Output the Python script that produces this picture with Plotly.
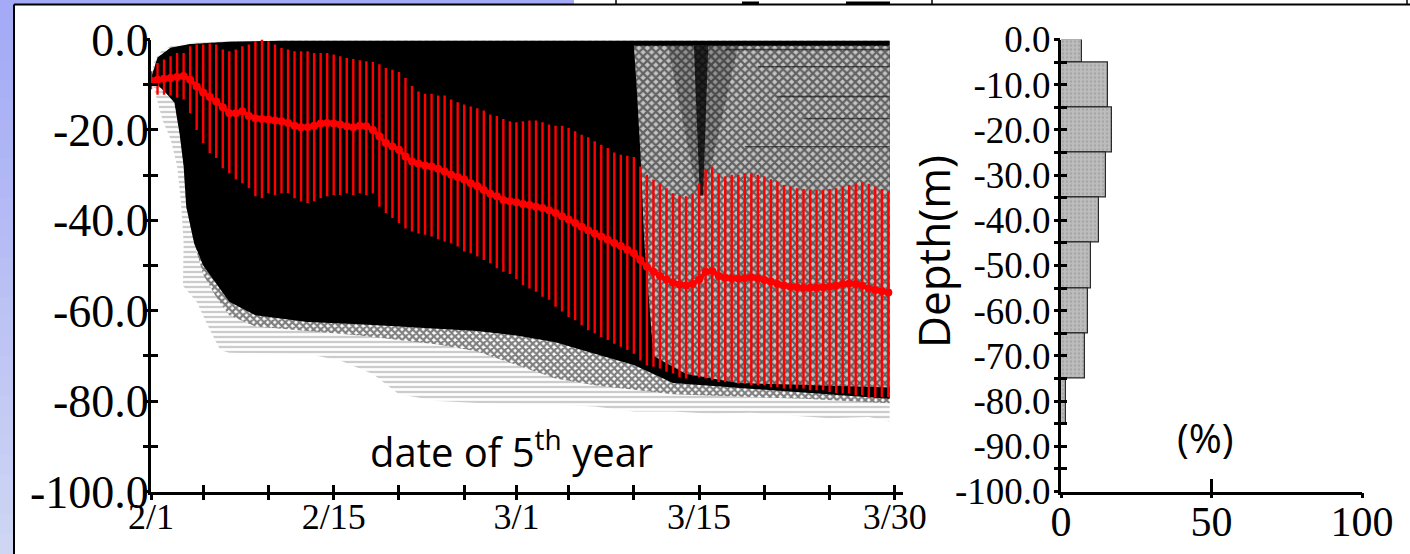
import numpy as np
import plotly.graph_objects as go
from datetime import date

W, H = 1410, 554


def px_x(p):
    return p / W


def px_y(p):
    return 1 - p / H


# ---------------- time axis: 5th year, half-day samples from 2/1 ----------------
TICK_DATES = ["2/1", "2/5", "2/10", "2/15", "2/20", "2/25", "3/1",
              "3/5", "3/10", "3/15", "3/20", "3/25", "3/30"]
LABELED_DATES = ["2/1", "2/15", "3/1", "3/15", "3/30"]

# mean depth (m) of all tracked individuals
MEAN_DEPTH = [
    -9.1, -8.9, -8.7, -8.5, -8.3, -8.1, -8.9, -10.4, -11.7, -12.7,
    -13.7, -15.0, -16.3, -16.3, -15.9, -16.9, -17.4, -17.6, -17.7, -17.9,
    -18.1, -18.5, -19.1, -19.4, -19.4, -19.1, -18.6, -18.5, -18.6, -18.8,
    -19.2, -19.4, -19.1, -19.2, -20.0, -21.4, -22.9, -23.7, -24.4, -25.9,
    -27.0, -27.5, -27.9, -28.1, -28.6, -29.2, -29.9, -30.4, -31.0, -31.8,
    -32.4, -33.3, -34.1, -34.7, -35.5, -35.8, -36.0, -36.4, -36.6, -37.0,
    -37.3, -37.8, -38.4, -39.1, -39.8, -40.6, -41.4, -42.2, -42.9, -43.6,
    -44.3, -45.0, -45.7, -46.5, -47.3, -48.8, -50.3, -51.4, -52.3, -53.1,
    -53.8, -54.2, -54.4, -54.1, -53.1, -51.4, -51.2, -52.3, -52.7, -52.9,
    -52.9, -52.8, -52.6, -52.9, -53.2, -53.6, -54.1, -54.4, -54.7, -54.8,
    -54.9, -54.9, -54.9, -54.8, -54.7, -54.5, -54.1, -54.0, -54.1, -54.5,
    -55.1, -55.4, -55.7, -56.0]

# mean + 1 SD
SD_UPPER = [
    -7.0, -5.2, -4.4, -3.7, -3.0, -3.0, -1.5, -1.1, -1.1, -0.9,
    -1.1, -2.2, -2.6, -2.2, -1.5, -1.1, -0.4, 0.0, -0.4, -1.1,
    -1.9, -2.2, -2.6, -2.6, -2.6, -3.0, -3.0, -3.0, -3.3, -3.7,
    -4.1, -4.3, -4.6, -4.8, -5.0, -5.5, -6.3, -6.7, -7.2, -8.5,
    -10.3, -11.5, -12.0, -12.0, -12.4, -12.4, -13.3, -13.9, -14.4, -14.8,
    -15.2, -15.7, -16.6, -16.9, -17.6, -18.1, -18.3, -18.1, -17.9, -17.9,
    -18.3, -18.8, -19.1, -19.1, -19.6, -20.3, -21.1, -21.6, -22.5, -23.3,
    -24.0, -25.0, -25.5, -25.7, -26.0, -28.1, -29.9, -31.0, -31.8, -32.9,
    -34.0, -34.4, -34.7, -34.1, -31.8, -28.8, -28.1, -29.6, -30.3, -29.9,
    -29.9, -29.6, -29.6, -29.9, -30.3, -30.9, -31.4, -32.2, -32.5, -32.9,
    -33.1, -33.3, -33.3, -33.3, -33.1, -32.9, -32.5, -32.2, -31.8, -31.6,
    -31.9, -32.5, -33.1, -33.6]

# mean - 1 SD
SD_LOWER = [
    -11.0, -12.2, -12.2, -12.4, -12.9, -13.3, -16.3, -20.0, -22.9, -25.1,
    -26.2, -28.5, -29.6, -31.0, -31.8, -32.9, -34.7, -35.1, -34.0, -34.4,
    -34.0, -34.0, -35.1, -35.8, -36.2, -35.8, -35.1, -34.7, -34.4, -34.4,
    -34.0, -34.4, -34.0, -34.4, -34.0, -37.0, -38.4, -39.5, -40.6, -41.8,
    -42.5, -42.9, -43.2, -43.6, -44.2, -44.7, -45.1, -45.8, -46.9, -47.3,
    -48.0, -48.8, -49.5, -50.6, -51.4, -51.9, -53.0, -54.3, -55.1, -55.8,
    -56.9, -57.6, -59.1, -60.2, -61.4, -62.1, -63.2, -64.3, -65.0, -65.8,
    -66.5, -67.3, -68.0, -68.7, -69.5, -71.0, -72.1, -72.4, -72.8, -73.5,
    -73.9, -74.7, -75.0, -74.3, -74.7, -75.0, -75.4, -75.8, -75.8, -75.8,
    -76.1, -76.1, -76.5, -76.5, -76.5, -76.9, -76.9, -77.2, -77.2, -77.2,
    -77.2, -77.6, -77.6, -77.6, -78.0, -78.2, -78.3, -78.3, -78.7, -78.7,
    -79.1, -79.1, -79.1, -79.1]

# outlines (day, depth) of the bundle of individual tracks
SPREAD_DAY = [0, 0.3, 0.8, 1.5, 3, 6, 10, 56.6, 56.6, 55, 52, 49, 46, 43, 40, 37,
              34, 31, 28, 25, 22, 19, 17, 14.5, 12, 9, 6, 5.3, 4.3, 3.5, 2.7,
              2.45, 2.5, 2.3, 2.0, 1.5, 0.9, 0.4, 0.1, 0]
SPREAD_DEPTH = [-8, -4.5, -2.5, -1.5, -0.8, -0.4, -0.2, -0.2, -84.5, -83.5, -83.8,
                -83.2, -82.6, -82.8, -82.3, -82.3, -81.2, -80.8, -80.6, -80.4, -80,
                -78.5, -74, -71, -69.6, -69.5, -69.3, -68.7, -63, -58, -55.5,
                -54.5, -45, -36, -28, -22, -18, -13, -10, -8.5]

MID_DAY = [0, 0.5, 1.5, 3, 6, 10, 56.6, 56.6, 50, 45, 40, 37, 34, 31, 28, 25, 22,
           19, 16, 12, 8, 6, 5, 4, 3.3, 2.7, 2.5, 2.2, 1.8, 1.2, 0.5, 0]
MID_DEPTH = [-8.6, -4, -1.8, -1, -0.5, -0.3, -0.3, -80.5, -79.5, -79, -78.5, -77.5,
             -76.5, -75, -72, -69, -67.5, -66.5, -65.5, -64.5, -63.5, -61, -57,
             -52, -45, -37, -28, -21, -14, -12, -10, -9]

CORE_DAY = [0, 0.5, 1.5, 3, 6, 10, 56.6, 56.6, 40, 37, 34, 31, 28, 25, 22, 19, 16,
            12, 8, 6, 5, 4, 3.3, 2.7, 2.5, 2.2, 1.8, 1.2, 0.5, 0]
CORE_DEPTH = [-8.6, -4, -1.8, -1, -0.5, -0.3, -0.3, -79.5, -76, -72, -69.5, -67,
              -65.5, -64.5, -64, -63.5, -63, -62.5, -61, -58, -54, -50, -45, -37,
              -28, -21, -14, -12, -10, -9]

SPARSE_DAY = [37.0, 56.6, 56.6, 50, 45, 41, 38.5, 37.8, 37.5, 37.2]
SPARSE_DEPTH = [-1.4, -1.4, -77, -76.5, -76, -74, -70, -45, -25, -10]

FUNNEL_WIDE_DAY = [39.6, 45.0, 42.4, 41.9]
FUNNEL_WIDE_DEPTH = [-1.4, -1.4, -34.5, -34.5]
FUNNEL_CORE_DAY = [41.6, 42.7, 42.3, 42.05]
FUNNEL_CORE_DEPTH = [-1.4, -1.4, -34.5, -34.5]

# tracks resting at a constant depth near the end of the period
RESTING_START = [44.0, 46.5, 48.0, 45.5, 50.0]
RESTING_DEPTH = [-2.2, -6.0, -12.6, -23.7, -17.5]

# ---------------- depth distribution (%) ----------------
BIN_TOP = [0, -5, -15, -25, -35, -45, -55, -65, -75]
BIN_BOTTOM = [-5, -15, -25, -35, -45, -55, -65, -75, -85]
SHARE_PCT = [7.0, 15.5, 17.0, 15.0, 12.5, 10.0, 9.0, 8.0, 1.5]

# ---------------- derived values ----------------
year = 2005
start = date(year, 2, 1)


def day_of(md):
    m, d = (int(v) for v in md.split("/"))
    return (date(year, m, d) - start).days


tick_days = [day_of(s) for s in TICK_DATES]
tick_text = [s if s in LABELED_DATES else "" for s in TICK_DATES]

mean = np.array(MEAN_DEPTH)
t = np.arange(len(mean)) * 0.5
err_up = np.array(SD_UPPER) - mean
err_dn = mean - np.array(SD_LOWER)
track_end = SPREAD_DAY[7]

bin_top = np.array(BIN_TOP, dtype=float)
bin_bot = np.array(BIN_BOTTOM, dtype=float)
bin_mid = (bin_top + bin_bot) / 2
bin_w = bin_top - bin_bot

# ---------------- figure ----------------
fig = go.Figure()


def area(xs, ys, **style):
    fig.add_trace(go.Scatter(x=xs, y=ys, fill="toself", mode="lines",
                             line=dict(width=0), hoverinfo="skip",
                             showlegend=False, **style))


# track bundle
area(SPREAD_DAY, SPREAD_DEPTH, fillcolor="white",
     fillpattern=dict(shape="-", fgcolor="#555555", bgcolor="white", size=5, solidity=0.28))
area(MID_DAY, MID_DEPTH, fillcolor="white",
     fillpattern=dict(shape="x", fgcolor="black", bgcolor="white", size=5, solidity=0.7))
area(CORE_DAY, CORE_DEPTH, fillcolor="black")
area(SPARSE_DAY, SPARSE_DEPTH, fillcolor="#c4c4c4",
     fillpattern=dict(shape="x", fgcolor="black", bgcolor="#c4c4c4", size=6, solidity=0.6))
area(FUNNEL_WIDE_DAY, FUNNEL_WIDE_DEPTH, fillcolor="rgba(0,0,0,0.25)")
area(FUNNEL_CORE_DAY, FUNNEL_CORE_DEPTH, fillcolor="rgba(0,0,0,0.75)")
for d0, z in zip(RESTING_START, RESTING_DEPTH):
    fig.add_trace(go.Scatter(x=[d0, track_end], y=[z, z], mode="lines",
                             line=dict(color="rgba(30,30,30,0.7)", width=1.4),
                             hoverinfo="skip", showlegend=False))

# mean depth with +/- 1 SD bars
fig.add_trace(go.Scatter(
    x=t, y=mean, mode="lines+markers",
    line=dict(color="#ff0000", width=4),
    marker=dict(color="#ff0000", size=8),
    error_y=dict(type="data", symmetric=False, array=err_up, arrayminus=err_dn,
                 color="#ff0000", thickness=2.4, width=0),
    hoverinfo="skip", showlegend=False))

# tick carriers for the opposite side of the main axes
fig.add_trace(go.Scatter(x=[0], y=[-100], xaxis="x3", yaxis="y3", mode="markers",
                         marker=dict(size=1, color="rgba(0,0,0,0)"),
                         hoverinfo="skip", showlegend=False))

# depth distribution
fig.add_trace(go.Bar(
    x=SHARE_PCT, y=bin_mid, width=bin_w, orientation="h", base=0,
    xaxis="x2", yaxis="y2",
    marker=dict(color="#bdbdbd", line=dict(color="#2a2a2a", width=1.2),
                pattern=dict(shape=".", fgcolor="#8c8c8c", bgcolor="#bdbdbd",
                             size=4, solidity=0.3)),
    hoverinfo="skip", showlegend=False))
fig.add_trace(go.Scatter(x=[0], y=[-100], xaxis="x4", yaxis="y4", mode="markers",
                         marker=dict(size=1, color="rgba(0,0,0,0)"),
                         hoverinfo="skip", showlegend=False))

serif = "Liberation Serif"
y_dom = [px_y(491.5), px_y(39.5)]

main_y_vals = list(range(0, -101, -10))
main_y_text = [f"{v:.1f}" if v % 20 == 0 else "" for v in main_y_vals]
hist_y_vals = list(range(0, -101, -5))
hist_y_text = [f"{v:.1f}" if v % 10 == 0 else "" for v in hist_y_vals]

axis_common = dict(showgrid=False, zeroline=False, linecolor="black",
                   tickcolor="black", fixedrange=True)

fig.update_layout(
    width=W, height=H,
    margin=dict(l=0, r=0, t=0, b=0, autoexpand=False),
    paper_bgcolor="white", plot_bgcolor="rgba(0,0,0,0)",
    showlegend=False, bargap=0,
    xaxis=dict(domain=[px_x(151), px_x(902.7)], range=[0, 57.6], anchor="y",
               showline=True, linewidth=3, ticks="inside", ticklen=7, tickwidth=2.5,
               tickmode="array", tickvals=tick_days, ticktext=tick_text,
               tickfont=dict(family=serif, size=36, color="black"),
               ticklabelstandoff=-9, **axis_common),
    yaxis=dict(domain=y_dom, range=[-100, 0], anchor="x",
               showline=True, linewidth=3, ticks="inside", ticklen=7, tickwidth=2.5,
               tickmode="array", tickvals=main_y_vals, ticktext=main_y_text,
               tickfont=dict(family=serif, size=46, color="black"),
               ticklabelstandoff=-10, **axis_common),
    xaxis3=dict(overlaying="x", anchor="y", range=[0, 57.6], showline=False,
                ticks="outside", ticklen=7, tickwidth=2.5, tickmode="array",
                tickvals=tick_days, showticklabels=False, **axis_common),
    yaxis3=dict(overlaying="y", anchor="x", range=[-100, 0], showline=False,
                ticks="outside", ticklen=7, tickwidth=2.5, tickmode="array",
                tickvals=main_y_vals, showticklabels=False, **axis_common),
    xaxis2=dict(domain=[px_x(1061), px_x(1362)], range=[0, 100], anchor="y2",
                showline=True, linewidth=3, ticks="inside", ticklen=13, tickwidth=3,
                tickmode="array", tickvals=[0, 50, 100], ticktext=["0", "50", "100"],
                tickfont=dict(family=serif, size=42, color="black"),
                ticklabelstandoff=-9, **axis_common),
    yaxis2=dict(domain=y_dom, range=[-100, 0], anchor="x2",
                showline=True, linewidth=3, ticks="inside", ticklen=6, tickwidth=2.5,
                tickmode="array", tickvals=hist_y_vals, ticktext=hist_y_text,
                tickfont=dict(family=serif, size=37, color="black"),
                ticklabelstandoff=0, **axis_common),
    xaxis4=dict(overlaying="x2", anchor="y2", range=[0, 100], showline=False,
                ticks="outside", ticklen=5, tickwidth=3, tickmode="array",
                tickvals=[0, 50, 100], showticklabels=False, **axis_common),
    yaxis4=dict(overlaying="y2", anchor="x2", range=[-100, 0], showline=False,
                ticks="outside", ticklen=6, tickwidth=2.5, tickmode="array",
                tickvals=hist_y_vals, showticklabels=False, **axis_common),
)

# text labels
sans = "Open Sans"
label_common = dict(xref="paper", yref="paper", showarrow=False,
                    xanchor="center", yanchor="middle")
fig.add_annotation(text="date of 5<sup>th</sup> year", x=px_x(511), y=px_y(449),
                   font=dict(family=sans, size=40, color="black"), **label_common)
fig.add_annotation(text="Depth(m)", x=px_x(933), y=px_y(252), textangle=-90,
                   font=dict(family=sans, size=44, color="black"), **label_common)
fig.add_annotation(text="(%)", x=px_x(1205), y=px_y(437),
                   font=dict(family=sans, size=40, color="black"), **label_common)

# slide frame: lavender margin and panel border
shapes = []
bands = 28
c0 = np.array([164, 170, 246])
c1 = np.array([206, 214, 244])
for i in range(bands):
    f = i / (bands - 1)
    r, g, b = (c0 + (c1 - c0) * f).astype(int)
    shapes.append(dict(type="rect", xref="paper", yref="paper", layer="below",
                       x0=0, x1=px_x(14), y0=px_y(H * (i + 1) / bands + 1),
                       y1=px_y(H * i / bands), line=dict(width=0),
                       fillcolor=f"rgb({r},{g},{b})"))
shapes.append(dict(type="rect", xref="paper", yref="paper", layer="below",
                   x0=0, x1=px_x(574), y0=px_y(4.5), y1=1, line=dict(width=0),
                   fillcolor="rgb(164,170,246)"))
shapes.append(dict(type="line", xref="paper", yref="paper",
                   x0=px_x(14), x1=1, y0=px_y(4.5), y1=px_y(4.5),
                   line=dict(color="black", width=2)))
shapes.append(dict(type="line", xref="paper", yref="paper",
                   x0=px_x(14), x1=px_x(14), y0=0, y1=px_y(4.5),
                   line=dict(color="black", width=2)))
for xv in (616, 932, 1407):
    shapes.append(dict(type="line", xref="paper", yref="paper",
                       x0=px_x(xv), x1=px_x(xv), y0=px_y(4.5), y1=1,
                       line=dict(color="black", width=1.5)))
for xa, xb in ((742, 759), (846, 890)):
    shapes.append(dict(type="rect", xref="paper", yref="paper",
                       x0=px_x(xa), x1=px_x(xb), y0=px_y(4.5), y1=px_y(1.5),
                       line=dict(width=0), fillcolor="black"))
fig.update_layout(shapes=shapes)

fig.write_html("out.html")
